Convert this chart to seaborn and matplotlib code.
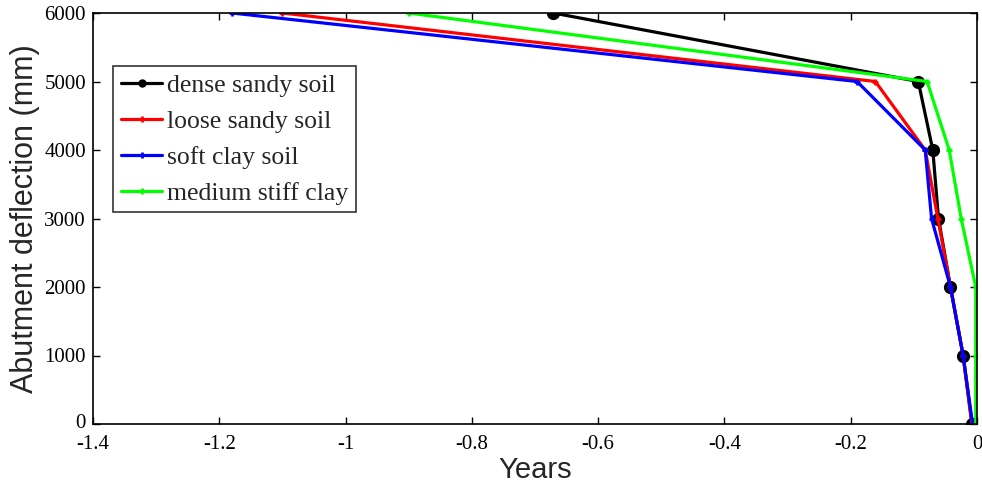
import matplotlib
matplotlib.use("Agg")
import matplotlib.pyplot as plt
import matplotlib.transforms as mtrans
import seaborn as sns
import pandas as pd

deflection = [6000, 5000, 4000, 3000, 2000, 1000, 0]
dense_sandy = [-0.671, -0.093, -0.070, -0.061, -0.042, -0.022, -0.008]
loose_sandy = [-1.10, -0.161, -0.082, -0.062, -0.042, -0.022, -0.008]
soft_clay = [-1.18, -0.19, -0.082, -0.072, -0.042, -0.022, -0.007]
medium_stiff = [-0.90, -0.079, -0.044, -0.025, -0.002, -0.002, -0.002]

series_names = ["dense sandy soil", "loose sandy soil", "soft clay soil", "medium stiff clay"]
series_vals = [dense_sandy, loose_sandy, soft_clay, medium_stiff]
colors = ["#000000", "#ff0000", "#0000ff", "#00ff00"]
markers = ["o", "+", "+", "+"]
msizes = [7.5, 5, 5, 5]

xticks = [-1.4, -1.2, -1, -0.8, -0.6, -0.4, -0.2, 0]
xtick_labels = ["-1.4", "-1.2", "-1", "-0.8", "-0.6", "-0.4", "-0.2", "0"]
yticks = [0, 1000, 2000, 3000, 4000, 5000, 6000]

sns.set_style("white")
fig = plt.figure(figsize=(9.82, 4.83), dpi=100)
ax = fig.add_axes([93/982, 1 - 424/483, (977-93)/982, (424-13)/483])

for name, vals, c, m, ms in zip(series_names, series_vals, colors, markers, msizes):
    df = pd.DataFrame({"x": vals, "y": deflection})
    sns.lineplot(data=df, x="x", y="y", sort=False, color=c, marker=m,
                 markersize=ms, markeredgewidth=2, markeredgecolor=c,
                 linewidth=2.3, label=name, ax=ax, estimator=None)

ax.set_xlim(-1.4, 0)
ax.set_ylim(0, 6000)
ax.set_xticks(xticks)
ax.set_xticklabels(xtick_labels)
ax.set_yticks(yticks)
fam = ["Liberation Serif", "DejaVu Serif"]
for lab in ax.get_xticklabels() + ax.get_yticklabels():
    lab.set_fontfamily(fam)
    lab.set_fontsize(15)
ax.tick_params(direction="in", length=5, width=1, top=True, right=True,
               bottom=True, left=True, colors="black")
ax.tick_params(axis="x", pad=8)
ax.tick_params(axis="y", pad=5)
for sp in ax.spines.values():
    sp.set_color("black")
    sp.set_linewidth(1.2)

# nudge the bottom y tick label up slightly so it does not collide with "-1.4"
zero_lab = ax.get_yticklabels()[0]
zero_lab.set_transform(zero_lab.get_transform() + mtrans.ScaledTranslation(0, 2/72, fig.dpi_scale_trans))

ax.set_xlabel("Years", fontsize=21, family=["Liberation Sans", "DejaVu Sans"], labelpad=1)
ax.set_ylabel("Abutment deflection (mm)", fontsize=22, family=["Liberation Sans", "DejaVu Sans"], labelpad=3)

leg = ax.legend(loc="upper left", bbox_to_anchor=(0.023, 0.87), frameon=True,
                prop={"family": fam, "size": 18.5},
                handlelength=1.6, handletextpad=0.2, borderpad=0.3, labelspacing=0.5,
                fancybox=False, borderaxespad=0)
leg.get_frame().set_edgecolor("black")
leg.get_frame().set_linewidth(1.2)
for h in leg.get_lines():
    h.set_markersize(4)

fig.savefig("out.png", dpi=100)
